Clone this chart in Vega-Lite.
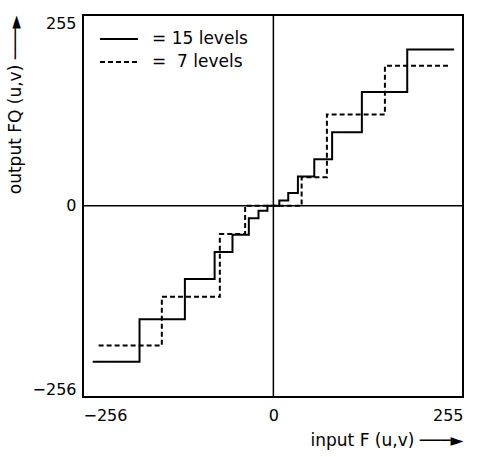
{
  "$schema": "https://vega.github.io/schema/vega-lite/v6.json",
  "width": 380,
  "height": 382,
  "autosize": {"type": "none"},
  "padding": {"left": 83, "top": 15, "right": 17, "bottom": 60},
  "background": "white",
  "config": {
    "view": {"stroke": "black", "strokeWidth": 2},
    "font": "DejaVu Sans",
    "axis": {
      "grid": false,
      "ticks": false,
      "tickSize": 0,
      "domain": false,
      "labelFont": "DejaVu Sans",
      "labelFontSize": 16,
      "labelColor": "black",
      "titleFont": "DejaVu Sans",
      "titleFontSize": 17,
      "titleFontWeight": "normal",
      "titleColor": "black"
    }
  },
  "datasets": {
    "steps": [
      {"series": "= 15 levels", "input": -243, "output": -209},
      {"series": "= 15 levels", "input": -180, "output": -152},
      {"series": "= 15 levels", "input": -119, "output": -98},
      {"series": "= 15 levels", "input": -79, "output": -62},
      {"series": "= 15 levels", "input": -55, "output": -39},
      {"series": "= 15 levels", "input": -33, "output": -17},
      {"series": "= 15 levels", "input": -20, "output": -7},
      {"series": "= 15 levels", "input": -8, "output": 0},
      {"series": "= 15 levels", "input": 8, "output": 7},
      {"series": "= 15 levels", "input": 20, "output": 17},
      {"series": "= 15 levels", "input": 33, "output": 39},
      {"series": "= 15 levels", "input": 55, "output": 62},
      {"series": "= 15 levels", "input": 79, "output": 98},
      {"series": "= 15 levels", "input": 119, "output": 152},
      {"series": "= 15 levels", "input": 180, "output": 209},
      {"series": "= 15 levels", "input": 243, "output": 209},
      {"series": "=\u00a0\u00a07 levels", "input": -235, "output": -187},
      {"series": "=\u00a0\u00a07 levels", "input": -150, "output": -122},
      {"series": "=\u00a0\u00a07 levels", "input": -72, "output": -38},
      {"series": "=\u00a0\u00a07 levels", "input": -38, "output": 0},
      {"series": "=\u00a0\u00a07 levels", "input": 38, "output": 38},
      {"series": "=\u00a0\u00a07 levels", "input": 72, "output": 122},
      {"series": "=\u00a0\u00a07 levels", "input": 150, "output": 187},
      {"series": "=\u00a0\u00a07 levels", "input": 235, "output": 187}
    ]
  },
  "layer": [
    {
      "data": {"name": "steps"},
      "mark": {"type": "line", "interpolate": "step-after", "color": "black", "strokeWidth": 2},
      "encoding": {
        "x": {
          "field": "input",
          "type": "quantitative",
          "scale": {"domain": [-256, 255], "nice": false, "zero": false},
          "axis": {
            "values": [-256, 0, 255],
            "format": "d",
            "labelPadding": 10,
            "title": "input F (u,v) ───►",
            "titleAnchor": "end",
            "titlePadding": 9
          }
        },
        "y": {
          "field": "output",
          "type": "quantitative",
          "scale": {"domain": [-256, 255], "nice": false, "zero": false},
          "axis": {
            "values": [-256, 0, 255],
            "format": "d",
            "labelFlush": true,
            "labelPadding": 7,
            "title": "output FQ (u,v) ───►",
            "titleAnchor": "end",
            "titlePadding": 8
          }
        },
        "strokeDash": {
          "field": "series",
          "type": "nominal",
          "scale": {"domain": ["= 15 levels", "=\u00a0\u00a07 levels"], "range": [[1, 0], [5, 3]]},
          "legend": {
            "title": null,
            "orient": "none",
            "legendX": 25,
            "legendY": 13,
            "symbolType": "M-1.9,0H1.9",
            "symbolSize": 400,
            "symbolStrokeWidth": 2,
            "symbolStrokeColor": "black",
            "symbolFillColor": "transparent",
            "labelFont": "DejaVu Sans",
            "labelFontSize": 17,
            "labelColor": "black",
            "labelOffset": 22,
            "rowPadding": 4
          }
        }
      }
    },
    {
      "data": {"values": [{"zero": 0}]},
      "mark": {"type": "rule", "color": "black", "strokeWidth": 1.5},
      "encoding": {"x": {"field": "zero", "type": "quantitative"}}
    },
    {
      "data": {"values": [{"zero": 0}]},
      "mark": {"type": "rule", "color": "black", "strokeWidth": 1.5},
      "encoding": {"y": {"field": "zero", "type": "quantitative"}}
    }
  ]
}
